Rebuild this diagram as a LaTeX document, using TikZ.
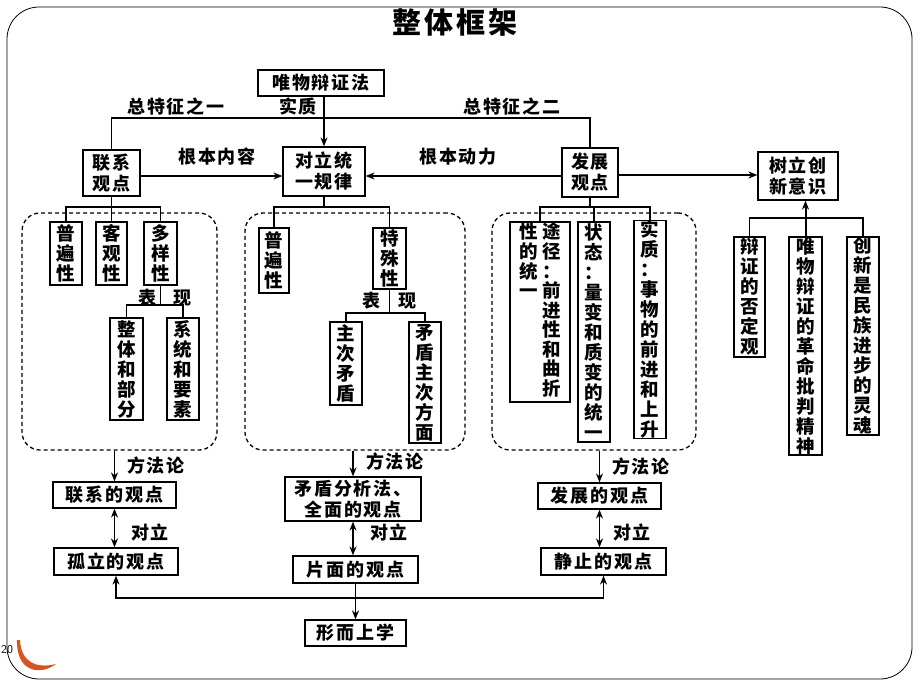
\documentclass[tikz,border=0pt]{standalone}
\usepackage{fontspec}
\newfontfamily\cjk{Noto Sans CJK SC}[LetterSpace=10]
\newfontfamily\cjkv{Noto Sans CJK SC}
\usetikzlibrary{arrows.meta}
\newcommand\hz{\cjk\bfseries\fontsize{18}{21}\selectfont}
\newcommand\vz{\cjkv\bfseries\fontsize{18.5}{20}\selectfont}
\tikzset{
  bx/.style={draw, line width=1.2pt, inner sep=0pt, font=\hz, align=center},
  vb/.style={draw, line width=1.2pt, inner sep=0pt, font=\vz, align=center},
  lb/.style={font=\hz, inner sep=0pt},
  ln/.style={line width=1.4pt},
  ar/.style={ln, -{Stealth[length=9pt,width=7pt]}},
  dar/.style={ln, {Stealth[length=9pt,width=7pt]}-{Stealth[length=9pt,width=7pt]}},
  dbox/.style={draw, line width=1.3pt, rounded corners=18pt, dash pattern=on 4pt off 3pt, inner sep=0pt},
}
\begin{document}
\begin{tikzpicture}[x=1pt,y=-1pt]
\useasboundingbox (0,0) rectangle (920,690);
\draw[line width=0.8pt, rounded corners=32pt] (7,7) rectangle (912,679);
\node[font=\cjk\bfseries\fontsize{29}{30}\selectfont] (title) at (455,22) {整体框架};
\node[font=\fontsize{12}{12}\selectfont\sffamily, inner sep=0pt] (pg) at (7,650) {20};
\fill[color={rgb,255:red,214;green,84;blue,30}] (17,640) .. controls (16,672) and (40,676) .. (56,664) .. controls (36,669) and (21,662) .. (20,640) -- cycle;

% top level
\node[bx, minimum width=126pt, minimum height=26pt] (wu) at (321,83) {唯物辩证法};
\node[bx, minimum width=57pt, minimum height=46pt] (lx) at (111.5,173) {联系\\观点};
\node[bx, minimum width=82pt, minimum height=49pt] (dl) at (324,171.5) {对立统\\一规律};
\node[bx, minimum width=56pt, minimum height=49pt] (fz) at (590,172.5) {发展\\观点};
\node[bx, minimum width=80pt, minimum height=48pt] (sl) at (798,176) {树立创\\新意识};

\coordinate (topbus) at (0,118);
\draw[ln] (lx.north) |- (topbus -| fz.north) -- (fz.north);
\draw[ar] (dl.north |- wu.south) -- (dl.north);
\node[lb] (tz1) at (176,107) {总特征之一};
\node[lb] (sz) at (298,107) {实质};
\node[lb] (tz2) at (512,107) {总特征之二};

\coordinate (midrow) at (0,176);
\draw[ar] (lx.east |- midrow) -- (dl.west |- midrow);
\draw[ar] (fz.west |- midrow) -- (dl.east |- midrow);
\draw[ar] (fz.east |- 0,175) -- (sl.west |- 0,175);
\node[lb] (gbnr) at (217,157) {根本内容};
\node[lb] (gbdl) at (458,157) {根本动力};

% dashed groups
\node[dbox, minimum width=195pt, minimum height=237pt] (dL) at (119.5,331.5) {};
\node[dbox, minimum width=220pt, minimum height=237pt] (dM) at (355,331.5) {};
\node[dbox, minimum width=204pt, minimum height=237pt] (dR) at (594,331.5) {};

% left group
\node[vb, minimum width=32pt, minimum height=63pt] (l1) at (66,253.5) {普\\遍\\性};
\node[vb, minimum width=31pt, minimum height=63pt] (l2) at (111.5,253.5) {客\\观\\性};
\node[vb, minimum width=33pt, minimum height=63pt] (l3) at (160.5,253.5) {多\\样\\性};
\node[vb, minimum width=33pt, minimum height=102pt] (l4) at (126.5,369) {整\\体\\和\\部\\分};
\node[vb, minimum width=32pt, minimum height=102pt] (l5) at (183,369) {系\\统\\和\\要\\素};
\coordinate (busL) at (0,207);
\draw[ln] (lx.south) -- (lx.south |- busL);
\draw[ln] (l1.north) |- (busL -| l3.north) -- (l3.north);
\draw[ln] (l2.north) -- (l2.north |- busL);
\coordinate (busL2) at (0,305);
\draw[ln] (l3.south) -- (l3.south |- busL2);
\draw[ln] (l4.north) |- (busL2 -| l5.north) -- (l5.north);
\node[lb] (lbiao) at (147,298) {表};
\node[lb] (lxian) at (182,298) {现};

% middle group
\node[vb, minimum width=30pt, minimum height=65pt] (m1) at (274,260.5) {普\\遍\\性};
\node[vb, minimum width=33pt, minimum height=61pt] (m2) at (389.5,258.5) {特\\殊\\性};
\node[vb, minimum width=32pt, minimum height=83pt] (m3) at (346,363.5) {主\\次\\矛\\盾};
\node[vb, minimum width=32pt, minimum height=121pt] (m4) at (425,382.5) {矛\\盾\\主\\次\\方\\面};
\draw[ln] (dl.south) -- (dl.south |- busL);
\draw[ln] (m1.north) |- (busL -| m2.north) -- (m2.north);
\coordinate (busM2) at (0,313);
\draw[ln] (m2.south) -- (m2.south |- busM2);
\draw[ln] (m3.north) |- (busM2 -| m4.north) -- (m4.north);
\node[lb] (mbiao) at (371,301) {表};
\node[lb] (mxian) at (407,301) {现};

% right group
\node[vb, minimum width=60pt, minimum height=180pt] (r1) at (540,312)
  {\begin{tabular}{@{}c@{\hspace{4pt}}c@{}}性&途\\[-2.2pt]的&径\\[-2.2pt]统&：\\[-2.2pt]一&前\\[-2.2pt]&进\\[-2.2pt]&性\\[-2.2pt]&和\\[-2.2pt]&曲\\[-2.2pt]&折\end{tabular}};
\node[vb, minimum width=32pt, minimum height=220pt] (r2) at (594,332) {状\\态\\：\\量\\变\\和\\质\\变\\的\\统\\一};
\node[vb, minimum width=32pt, minimum height=215pt] (r3) at (650,329.5) {实\\质\\：\\事\\物\\的\\前\\进\\和\\上\\升};
\draw[ln] (fz.south) -- (fz.south |- busL);
\draw[ln] (r1.north) |- (busL -| r3.north) -- (r3.north);
\draw[ln] (r2.north) -- (r2.north |- busL);

% far right
\node[vb, minimum width=31pt, minimum height=120pt] (s1) at (749.5,297) {辩\\证\\的\\否\\定\\观};
\node[vb, minimum width=33pt, minimum height=218pt] (s2) at (805.5,346) {唯\\物\\辩\\证\\的\\革\\命\\批\\判\\精\\神};
\node[vb, minimum width=32pt, minimum height=198pt] (s3) at (863,336) {创\\新\\是\\民\\族\\进\\步\\的\\灵\\魂};
\coordinate (busS) at (0,218);
\draw[ln] (s1.north) |- (busS -| s3.north) -- (s3.north);
\draw[ar, line width=2pt] (s2.north) -- (s2.north |- sl.south);

% bottom
\node[bx, minimum width=123pt, minimum height=26pt] (b1) at (114.5,495) {联系的观点};
\node[bx, minimum width=124pt, minimum height=27pt] (b2) at (116,561.5) {孤立的观点};
\node[bx, minimum width=136pt, minimum height=44pt] (b3) at (353,499) {矛盾分析法、\\全面的观点};
\node[bx, minimum width=125pt, minimum height=27pt] (b4) at (355.5,569.5) {片面的观点};
\node[bx, minimum width=101pt, minimum height=26pt] (b5) at (355.5,633) {形而上学};
\node[bx, minimum width=123pt, minimum height=26pt] (b6) at (599.5,496) {发展的观点};
\node[bx, minimum width=125pt, minimum height=27pt] (b7) at (603.5,561.5) {静止的观点};

\draw[ar] (b1.north |- dL.south) -- (b1.north);
\draw[ar] (b3.north |- dM.south) -- (b3.north);
\draw[ar] (b6.north |- dR.south) -- (b6.north);
\node[lb] (ff1) at (156,466) {方法论};
\node[lb] (ff2) at (395,462) {方法论};
\node[lb] (ff3) at (641,467) {方法论};

\draw[dar] (b1.south) -- (b1.south |- b2.north);
\draw[dar] (b3.south) -- (b3.south |- b4.north);
\draw[dar] (b6.south) -- (b6.south |- b7.north);
\node[lb] (dl1) at (150,533) {对立};
\node[lb] (dl2) at (389,533) {对立};
\node[lb] (dl3) at (632,533) {对立};

\coordinate (busB) at (0,598);
\draw[ar] (b4.south) -- (b5.north);
\draw[ar] (b4.south |- busB) -| (b2.south);
\draw[ar] (b4.south |- busB) -| (b7.south);
\end{tikzpicture}
\end{document}
